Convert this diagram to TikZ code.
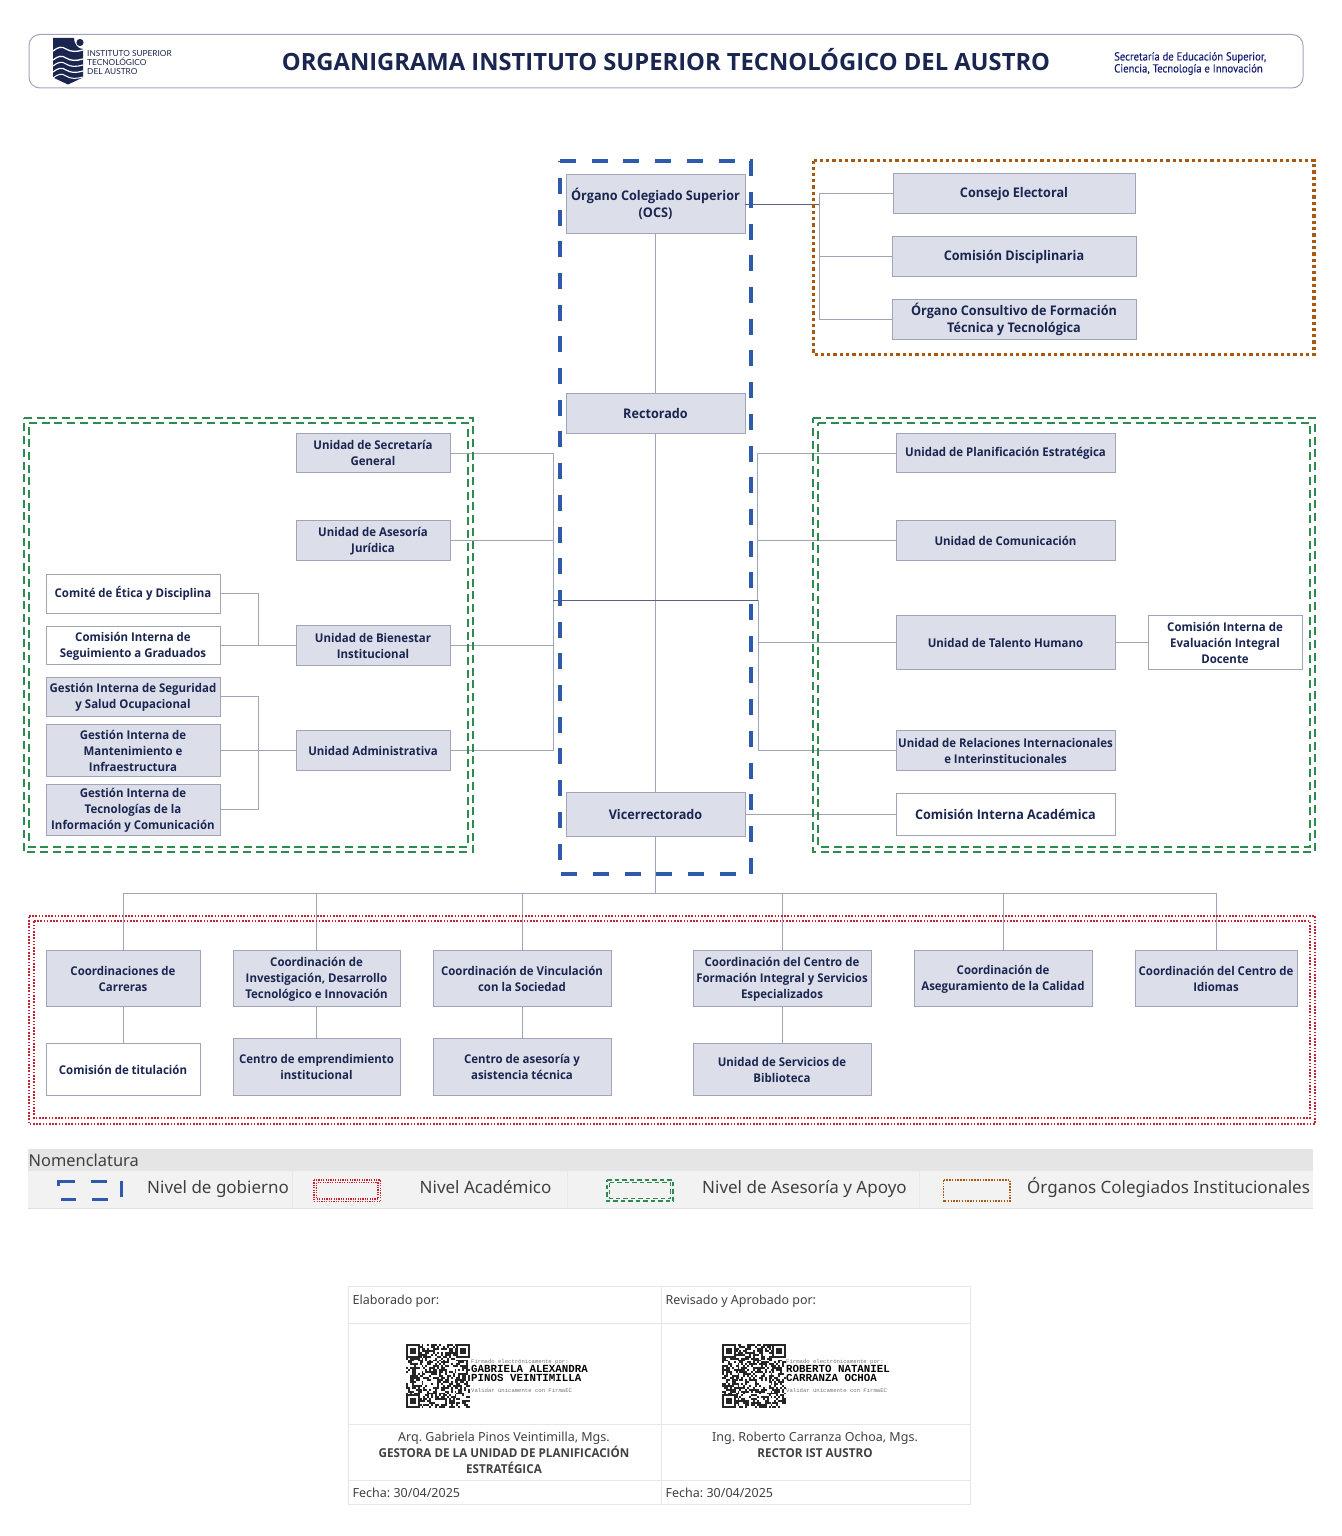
\documentclass[tikz,border=0pt]{standalone}
\usepackage{fontspec}
\setmainfont{Noto Sans}
\newfontfamily\semi[FakeStretch=0.95]{Open Sans}
\newfontfamily\heavy{Open Sans}
\newfontfamily\mono{Liberation Mono}
\newfontfamily\condf[FakeStretch=0.92,FakeBold=0.2]{PT Sans}
\newfontfamily\logof{Lato}
\frenchspacing
\definecolor{boxfill}{HTML}{DCDFEA}
\definecolor{boxline}{HTML}{A0A4B8}
\definecolor{ink}{HTML}{1A2650}
\definecolor{darkline}{HTML}{5A6184}
\definecolor{blueframe}{HTML}{2E5AAC}
\definecolor{greenframe}{HTML}{2E8B4F}
\definecolor{orangeframe}{HTML}{A8590F}
\definecolor{redframe}{HTML}{C8202F}
\definecolor{tablegray}{HTML}{E6E6E6}
\tikzset{
 unit/.style={draw=boxline,fill=boxfill,line width=.9pt,text=ink,align=center,inner sep=0pt,outer sep=0pt,
   font=\semi\bfseries\fontsize{12.05}{16}\selectfont},
 unitbig/.style={unit,font=\semi\bfseries\fontsize{13.3}{17}\selectfont},
 unitw/.style={unit,fill=white},
 unitwbig/.style={unitbig,fill=white},
 conn/.style={draw=boxline,line width=1pt},
 connd/.style={draw=darkline,line width=.9pt},
 gov/.style={draw=blueframe,line width=3.6pt,dash pattern=on 16pt off 15.7pt},
 support/.style={draw=greenframe,line width=1.4pt,dash pattern=on 8pt off 4.7pt},
 collegiate/.style={draw=orangeframe,line width=3.2pt,dash pattern=on 3.3pt off 3pt},
 acad/.style={draw=redframe,line width=1.4pt,dash pattern=on 1.6pt off 1.6pt},
 leg/.style={inner sep=0pt,anchor=base west,text=black!75,font=\fontsize{17}{20}\selectfont},
 tabtxt/.style={inner sep=0pt,anchor=base west,text=black!75,font=\fontsize{12.5}{16}\selectfont},
 tabname/.style={inner sep=0pt,anchor=north,text=black!75,align=center,font=\fontsize{12.5}{16}\selectfont},
 tabline/.style={draw=tablegray,line width=1pt},
 qrsmall/.style={inner sep=0pt,anchor=west,align=left,text=black!55,font=\mono\fontsize{5.6}{6}\selectfont},
 qrname/.style={inner sep=0pt,anchor=west,align=left,text=black,font=\mono\fontsize{10.8}{9.4}\selectfont\bfseries},
}
\newcommand{\ustrut}{\rule[-1.5pt]{0pt}{13pt}}
\newcommand{\bx}[7][unit]{\node[#1,minimum width={#5-#3},minimum height={#6-#4}] (#2) at ({(#3+#5)/2},{(#4+#6)/2}) {\ustrut #7\ustrut};}
\newcommand{\fakeqr}[2]{%
 \begin{scope}[shift={(#1,#2)}]
 \foreach \i in {0,...,32}{\foreach \j in {0,...,32}{%
   \pgfmathparse{rnd<0.52?1:0}%
   \ifnum\pgfmathresult=1 \fill[black!85] ({\i*1.94},{\j*1.94}) rectangle ++(1.94,1.94);\fi}}
 \foreach \a/\b in {0/0,50.44/0,0/50.44}{%
   \fill[white] (\a-0.5,\b-0.5) rectangle ++(14.5,14.5);
   \fill[black!85] (\a,\b) rectangle ++(13.58,13.58);
   \fill[white] (\a+1.94,\b+1.94) rectangle ++(9.7,9.7);
   \fill[black!85] (\a+3.88,\b+3.88) rectangle ++(5.82,5.82);}
 \end{scope}}
\begin{document}
\begin{tikzpicture}[x=1pt,y=-1pt]
\useasboundingbox (0,0) rectangle (1341,1536);
% header
\draw[draw=boxline,line width=1pt,rounded corners=11pt] (29,34.5) rectangle (1303,88);
\fill[ink] (53,38) -- (74,38) .. controls (74,44) and (78,49) .. (83,49) -- (83,77.5) -- (68,84.5) -- (53,77.5) -- cycle;
\fill[ink] (80,42.5) circle (3.6);
\foreach \yy/\w in {50/1.3,59/1.3,65/1.1,71/1.2,77/1}{
 \draw[white,line width=\w pt] (53,\yy+1) .. controls (58,\yy-3) and (62,\yy-4) .. (66,\yy-1) .. controls (71,\yy+2) and (76,\yy+2) .. (83,\yy);}
\node[inner sep=0pt,anchor=west,text=ink,align=left,font=\logof\fontsize{8.3}{9.2}\selectfont] (logotext) at (87,62.5) {INSTITUTO SUPERIOR\\TECNOLÓGICO\\DEL AUSTRO};
\node[inner sep=0pt,anchor=base,text=ink,font=\heavy\bfseries\fontsize{23.75}{28}\selectfont] (title) at (666,70.5) {ORGANIGRAMA INSTITUTO SUPERIOR TECNOLÓGICO DEL AUSTRO};
\node[inner sep=0pt,anchor=west,text=ink!80!blue,align=left,font=\condf\fontsize{11.6}{12}\selectfont] (ministry) at (1114,63.5) {Secretaría de Educación Superior,\\Ciencia, Tecnología e Innovación};
% government
\bx[unitbig]{ocs}{566}{174}{745}{233}{Órgano Colegiado Superior\\(OCS)}
\bx[unitbig]{rect}{566}{393}{745}{433}{Rectorado}
\bx[unitbig]{vice}{566}{792}{745}{836}{Vicerrectorado}
% collegiate
\bx[unitbig]{consejo}{893}{173}{1135}{213}{Consejo Electoral}
\bx[unitbig]{disc}{892}{236}{1136}{276}{Comisión Disciplinaria}
\bx[unitbig]{consult}{892}{299}{1136}{339}{Órgano Consultivo de Formación\\Técnica y Tecnológica}
% left support
\bx{secret}{296}{433}{450}{472}{Unidad de Secretaría\\General}
\bx{asesoria}{296}{520}{450}{560}{Unidad de Asesoría\\Jurídica}
\bx{bienestar}{296}{625}{450}{665}{Unidad de Bienestar\\Institucional}
\bx{admin}{296}{730}{450}{770}{Unidad Administrativa}
\bx[unitw]{etica}{46}{574}{220}{613}{Comité de Ética y Disciplina}
\bx[unitw]{seguim}{46}{626}{220}{664}{Comisión Interna de\\Seguimiento a Graduados}
\bx{seg}{46}{677}{220}{716}{Gestión Interna de Seguridad\\y Salud Ocupacional}
\bx{mant}{46}{724}{220}{776}{Gestión Interna de\\Mantenimiento e\\Infraestructura}
\bx{tec}{46}{784}{220}{835}{Gestión Interna de\\Tecnologías de la\\Información y Comunicación}
% right support
\bx{plan}{896}{433}{1115}{472}{Unidad de Planificación Estratégica}
\bx{com}{896}{520}{1115}{560}{Unidad de Comunicación}
\bx{talento}{896}{615}{1115}{669}{Unidad de Talento Humano}
\bx[unitw]{cei}{1148}{615}{1302}{669}{Comisión Interna de\\Evaluación Integral\\Docente}
\bx{relac}{896}{730}{1115}{770}{Unidad de Relaciones Internacionales\\e Interinstitucionales}
\bx[unitwbig]{cia}{896}{793}{1115}{835}{Comisión Interna Académica}
% academic
\bx{carr}{46}{950}{200}{1006}{Coordinaciones de\\Carreras}
\bx{inv}{233}{950}{400}{1006}{Coordinación de\\Investigación, Desarrollo\\Tecnológico e Innovación}
\bx{vinc}{433}{950}{611}{1006}{Coordinación de Vinculación\\con la Sociedad}
\bx{cfi}{693}{950}{871}{1006}{Coordinación del Centro de\\Formación Integral y Servicios\\Especializados}
\bx{aseg}{914}{950}{1092}{1006}{Coordinación de\\Aseguramiento de la Calidad}
\bx{idiom}{1135}{950}{1297}{1006}{Coordinación del Centro de\\Idiomas}
\bx[unitw]{tit}{46}{1043}{200}{1095}{Comisión de titulación}
\bx{emp}{233}{1038}{400}{1095}{Centro de emprendimiento\\institucional}
\bx{ase}{433}{1038}{611}{1095}{Centro de asesoría y\\asistencia técnica}
\bx{bib}{693}{1043}{871}{1095}{Unidad de Servicios de\\Biblioteca}
% junctions
\coordinate (jO) at (819,204);
\coordinate (jL) at (553,600);
\coordinate (jR) at (757.5,600);
\coordinate (jB) at (258,645);
\coordinate (jA) at (258,750);
\coordinate (jV) at (655.5,893);
% connectors
\draw[conn] (ocs.south) -- (rect.north);
\draw[conn] (rect.south) -- (vice.north);
\draw[conn] (vice.south) -- (jV);
\draw[connd] (ocs.east |- jO) -- (jO);
\draw[conn] (consejo.west) -| (jO);
\draw[conn] (consult.west) -| (jO);
\draw[conn] (disc.west) -- (disc.west -| jO);
\draw[conn] (secret.east |- 0,453) -| (jL);
\draw[conn] (admin.east) -| (jL);
\draw[conn] (asesoria.east) -- (asesoria.east -| jL);
\draw[conn] (bienestar.east) -- (bienestar.east -| jL);
\draw[connd] (jL) -- (jR);
\draw[conn] (plan.west |- 0,453) -| (jR);
\draw[conn] (relac.west) -| ([xshift=1pt]jR);
\draw[conn] (com.west) -- (com.west -| jR);
\draw[conn] (talento.west) -- (talento.west -| jR);
\draw[conn] (talento.east) -- (cei.west);
\draw[conn] (vice.east) -- (cia.west);
\draw[conn] (bienestar.west) -- (jB);
\draw[conn] (etica.east) -| (jB);
\draw[conn] (seguim.east |- jB) -- (jB);
\draw[conn] (admin.west) -- (jA);
\draw[conn] (seg.east) -| (jA);
\draw[conn] (tec.east) -| (jA);
\draw[conn] (mant.east) -- (jA);
\draw[conn] (carr.north) |- (jV);
\draw[conn] (inv.north) |- (jV);
\draw[conn] (vinc.north) |- (jV);
\draw[conn] (cfi.north) |- (jV);
\draw[conn] (aseg.north) |- (jV);
\draw[conn] (idiom.north) |- (jV);
\draw[conn] (carr.south) -- (tit.north);
\draw[conn] (inv.south) -- (emp.north);
\draw[conn] (vinc.south) -- (ase.north);
\draw[conn] (cfi.south) -- (bib.north);
% level frames
\draw[gov] (560,161) -- (751,161) -- (751,874) -- (560,874) -- cycle;
\draw[collegiate] (813.5,160.5) -- (1314,160.5) -- (1314,354.5) -- (813.5,354.5) -- cycle;
\draw[support] (24,418) -- (473,418) -- (473,852) -- (24,852) -- cycle;
\draw[support] (29,423) -- (468,423) -- (468,847) -- (29,847) -- cycle;
\draw[support] (813,418) -- (1315,418) -- (1315,852) -- (813,852) -- cycle;
\draw[support] (818,423) -- (1310,423) -- (1310,847) -- (818,847) -- cycle;
\draw[acad] (29,916) -- (1315,916) -- (1315,1124) -- (29,1124) -- cycle;
\draw[acad] (34,921) -- (1310,921) -- (1310,1118) -- (34,1118) -- cycle;
% legend
\fill[black!10] (28,1149) rectangle (1313,1171);
\fill[black!5] (28,1171) rectangle (1313,1208);
\draw[black!12,line width=.8pt] (28,1208.5) -- (1313,1208.5);
\foreach \xx in {292.5,567,919.5}{\draw[black!9,line width=.8pt] (\xx,1171) -- (\xx,1208);}
\node[leg,font=\fontsize{16.4}{20}\selectfont] (nom) at (28.5,1166) {Nomenclatura};
\node[leg] (l1) at (147,1193) {Nivel de gobierno};
\node[leg] (l2) at (419.5,1193) {Nivel Académico};
\node[leg] (l3) at (702,1193) {Nivel de Asesoría y Apoyo};
\node[leg] (l4) at (1027,1193) {Órganos Colegiados Institucionales};
\draw[draw=blueframe,line width=3pt] (58,1186) -- (58,1181.5) -- (75,1181.5);
\draw[draw=blueframe,line width=3pt] (91,1181.5) -- (107,1181.5);
\draw[draw=blueframe,line width=3pt] (121.5,1181) -- (121.5,1196.5);
\draw[draw=blueframe,line width=3pt] (61,1199.5) -- (76,1199.5);
\draw[draw=blueframe,line width=3pt] (92,1199.5) -- (108,1199.5);
\draw[acad,line width=1.2pt,dash pattern=on 1.2pt off 1.2pt] (314,1180) rectangle (380.5,1201.5);
\draw[acad,line width=1.2pt,dash pattern=on 1.2pt off 1.2pt] (316.5,1182.5) rectangle (378,1199);
\draw[support,line width=1.2pt,dash pattern=on 4.5pt off 3pt] (607,1180) -- (673,1180) -- (673,1201) -- (607,1201) -- cycle;
\draw[support,line width=1.2pt,dash pattern=on 4.5pt off 3pt] (609.5,1182.5) -- (670.5,1182.5) -- (670.5,1198.5) -- (609.5,1198.5) -- cycle;
\draw[draw=orangeframe,line width=1.2pt,dash pattern=on 1.5pt off 1.3pt] (943.5,1180) rectangle (1010,1201);
% signature table
\draw[tabline] (348,1286.5) rectangle (970,1504);
\draw[tabline] (661,1286.5) -- (661,1504);
\foreach \yy in {1323.5,1424.5,1480.5}{\draw[tabline] (348,\yy) -- (970,\yy);}
\node[tabtxt] (e1) at (352.5,1304) {Elaborado por:};
\node[tabtxt] (r1) at (665.5,1304) {Revisado y Aprobado por:};
\pgfmathsetseed{4217}
\fakeqr{406}{1344}
\fakeqr{722}{1344}
\node[qrsmall] (f1) at (471,1362) {Firmado electrónicamente por:};
\node[qrname] (n1) at (471,1373.5) {GABRIELA ALEXANDRA\\PINOS VEINTIMILLA};
\node[qrsmall] (v1) at (471,1390) {Validar únicamente con FirmaEC};
\node[qrsmall] (f2) at (786,1362) {Firmado electrónicamente por:};
\node[qrname] (n2) at (786,1373.5) {ROBERTO NATANIEL\\CARRANZA OCHOA};
\node[qrsmall] (v2) at (786,1390) {Validar únicamente con FirmaEC};
\node[tabname] (p1) at (504,1431.5) {Arq. Gabriela Pinos Veintimilla, Mgs.\\{\semi\bfseries\fontsize{12.25}{16}\selectfont GESTORA DE LA UNIDAD DE PLANIFICACIÓN}\\{\semi\bfseries\fontsize{12.25}{16}\selectfont ESTRATÉGICA}};
\node[tabname] (p2) at (815,1431.5) {Ing. Roberto Carranza Ochoa, Mgs.\\{\semi\bfseries\fontsize{12.25}{16}\selectfont RECTOR IST AUSTRO}};
\node[tabtxt] (d1) at (352.5,1497) {Fecha: 30/04/2025};
\node[tabtxt] (d2) at (665.5,1497) {Fecha: 30/04/2025};
\end{tikzpicture}
\end{document}
